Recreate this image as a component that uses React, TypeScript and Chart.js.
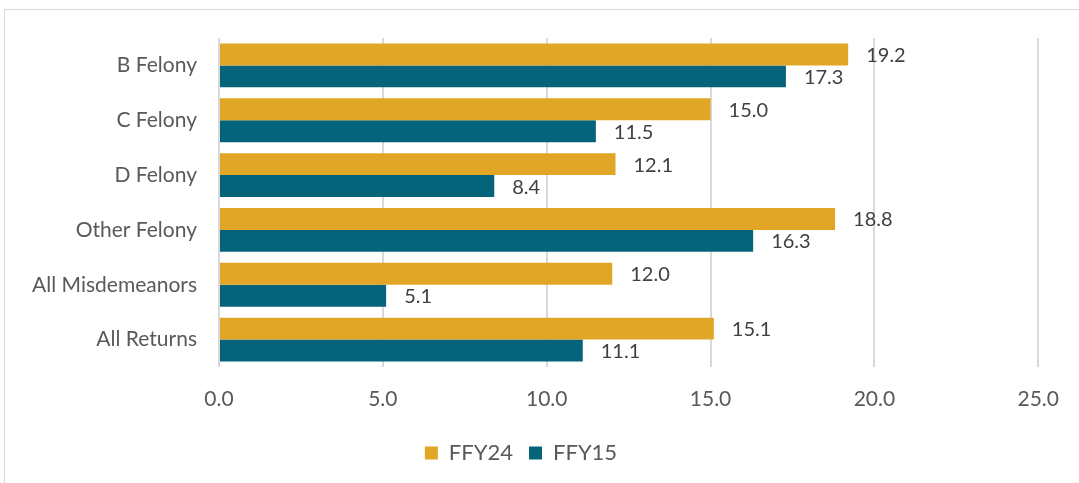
import React, { useEffect, useRef } from "react";
import { Chart, registerables } from "chart.js";

Chart.register(...registerables);

const categories = ["B Felony", "C Felony", "D Felony", "Other Felony", "All Misdemeanors", "All Returns"];
const ffy24 = [19.2, 15.0, 12.1, 18.8, 12.0, 15.1];
const ffy15 = [17.3, 11.5, 8.4, 16.3, 5.1, 11.1];
const seriesNames = ["FFY24", "FFY15"];
const xTicks = [0, 5, 10, 15, 20, 25];

const FONT = "Lato, 'Open Sans', sans-serif";

const labelPlugin = {
  id: "barLabels",
  afterDatasetsDraw(chart: any) {
    const ctx = chart.ctx;
    ctx.save();
    ctx.font = `20px ${FONT}`;
    ctx.fillStyle = "#404040";
    ctx.textAlign = "left";
    ctx.textBaseline = "middle";
    chart.data.datasets.forEach((ds: any, i: number) => {
      const meta = chart.getDatasetMeta(i);
      meta.data.forEach((bar: any, j: number) => {
        ctx.fillText(Number(ds.data[j]).toFixed(1), bar.x + 18, bar.y + 1);
      });
    });
    ctx.restore();
  },
};

export default function App() {
  const ref = useRef<HTMLCanvasElement | null>(null);
  useEffect(() => {
    if (!ref.current) return;
    const chart = new Chart(ref.current, {
      type: "bar",
      data: {
        labels: categories,
        datasets: [
          { label: seriesNames[0], data: ffy24, backgroundColor: "#E2A626", categoryPercentage: 0.8, barPercentage: 1.0 },
          { label: seriesNames[1], data: ffy15, backgroundColor: "#05637A", categoryPercentage: 0.8, barPercentage: 1.0 },
        ],
      },
      plugins: [labelPlugin],
      options: {
        indexAxis: "y",
        animation: false,
        responsive: false,
        maintainAspectRatio: false,
        layout: { padding: { left: 0, right: 37, top: 38, bottom: 9 } },
        plugins: {
          legend: {
            position: "bottom",
            labels: {
              font: { family: FONT, size: 22 },
              color: "#595959",
              boxWidth: 13,
              boxHeight: 13,
              padding: 16,
            },
          },
          tooltip: { enabled: false },
        },
        scales: {
          x: {
            min: 0,
            max: 25,
            afterBuildTicks: (scale: any) => {
              scale.ticks = xTicks.map((v) => ({ value: v }));
            },
            ticks: {
              callback: (v: any) => Number(v).toFixed(1),
              font: { family: FONT, size: 21 },
              color: "#595959",
              padding: 20,
            },
            grid: { color: "#D9D9D9", lineWidth: 2, drawTicks: false },
            border: { display: false },
            afterFit: (scale: any) => {
              scale.height = 59;
            },
          },
          y: {
            ticks: {
              font: { family: FONT, size: 21 },
              color: "#595959",
              padding: 22,
            },
            grid: { display: false, drawTicks: false },
            border: { display: false },
            afterFit: (scale: any) => {
              scale.width = 219;
            },
          },
        },
      },
    });
    return () => chart.destroy();
  }, []);
  return (
    <div style={{ position: "fixed", left: 0, top: 0, width: 1079, height: 483, background: "#fff" }}>
      <div
        style={{
          position: "absolute",
          left: 4,
          top: 9,
          width: 1090,
          height: 480,
          border: "1px solid #D9D9D9",
          boxSizing: "border-box",
        }}
      />
      <canvas ref={ref} width={1079} height={483} style={{ position: "absolute", left: 0, top: 0 }} />
    </div>
  );
}
